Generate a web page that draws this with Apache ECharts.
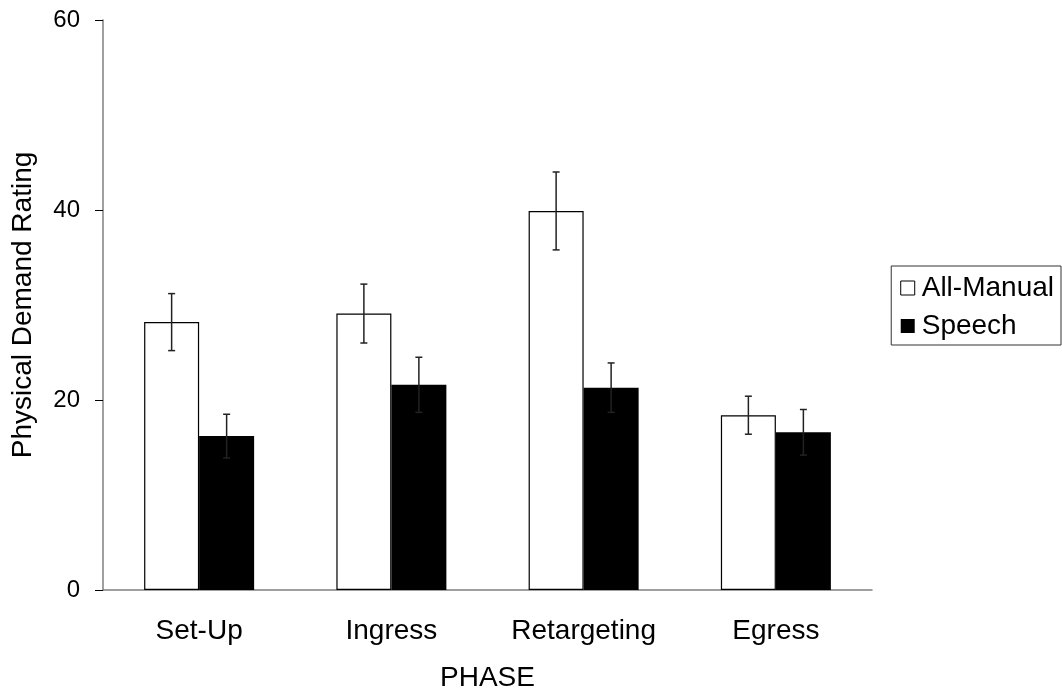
<!DOCTYPE html>
<html>
<head>
<meta charset="utf-8">
<script src="https://cdn.jsdelivr.net/npm/echarts@6/dist/echarts.min.js"></script>
<style>
  html, body { margin: 0; padding: 0; background: #fff; }
  #main { width: 1062px; height: 697px; }
</style>
</head>
<body>
<div id="main"></div>
<script>
const phases = ['Set-Up', 'Ingress', 'Retargeting', 'Egress']
const manual = [28.2, 29.1, 39.9, 18.4]
const manualErr = [3.0, 3.1, 4.1, 2.0]
const speech = [16.2, 21.6, 21.3, 16.6]
const speechErr = [2.3, 2.9, 2.6, 2.4]
const yTicks = [0, 20, 40, 60]

const font = 'Liberation Sans, Arial, sans-serif'
const barW = 55

const errData = (vals, errs) => vals.map((v, i) => [i, v - errs[i], v + errs[i]])

// error bars drawn as I-shapes over each bar
const errSeries = (name, vals, errs, shift) => ({
  name: name,
  type: 'custom',
  z: 10,
  legendHoverLink: false,
  renderItem: (params, api) => {
    const i = api.value(0)
    const lo = api.coord([i, api.value(1)])
    const hi = api.coord([i, api.value(2)])
    const x = lo[0] + shift
    const w = 3.5
    const style = { stroke: '#222', lineWidth: 1.5 }
    return {
      type: 'group',
      children: [
        { type: 'line', shape: { x1: x, y1: lo[1], x2: x, y2: hi[1] }, style },
        { type: 'line', shape: { x1: x - w, y1: lo[1], x2: x + w, y2: lo[1] }, style },
        { type: 'line', shape: { x1: x - w, y1: hi[1], x2: x + w, y2: hi[1] }, style }
      ]
    }
  },
  encode: { x: 0, y: [1, 2] },
  data: errData(vals, errs)
})

const chart = echarts.init(document.getElementById('main'))
chart.setOption({
  animation: false,
  textStyle: { fontFamily: font },
  grid: { left: 103, right: 190, top: 20, bottom: 105 },
  legend: {
    orient: 'vertical',
    right: 1,
    top: 266,
    data: [
      { name: 'All-Manual', itemStyle: { color: '#fff', borderColor: '#000', borderWidth: 1 } },
      { name: 'Speech', itemStyle: { color: '#000' } }
    ],
    icon: 'rect',
    itemWidth: 14,
    itemHeight: 14,
    itemGap: 10,
    padding: [8, 7, 5, 9],
    borderColor: '#333',
    borderWidth: 1,
    textStyle: { fontSize: 28, lineHeight: 28, color: '#000', fontFamily: font, padding: [0, 0, 0, 2] }
  },
  xAxis: {
    type: 'category',
    data: phases,
    name: 'PHASE',
    nameLocation: 'middle',
    nameGap: 74,
    nameTextStyle: { fontSize: 28, color: '#000' },
    axisLine: { lineStyle: { color: '#808080', width: 1.5 } },
    axisTick: { show: false },
    axisLabel: { fontSize: 28, color: '#000', margin: 27 }
  },
  yAxis: {
    type: 'value',
    min: 0,
    max: 60,
    interval: 20,
    name: 'Physical Demand Rating',
    nameLocation: 'middle',
    nameGap: 66,
    nameTextStyle: { fontSize: 28, color: '#000' },
    axisLine: { show: true, lineStyle: { color: '#808080', width: 1.5 } },
    axisTick: { show: true, length: 8, lineStyle: { color: '#000' } },
    axisLabel: { fontSize: 24, color: '#000', margin: 23, formatter: v => yTicks.includes(v) ? String(v) : '' },
    splitLine: { show: false }
  },
  series: [
    {
      name: 'All-Manual',
      type: 'bar',
      barWidth: barW,
      barGap: '0%',
      itemStyle: { color: '#fff', borderColor: '#000', borderWidth: 1.2 },
      data: manual
    },
    {
      name: 'Speech',
      type: 'bar',
      barWidth: barW,
      barGap: '0%',
      itemStyle: { color: '#000' },
      data: speech
    },
    errSeries('All-Manual', manual, manualErr, -barW / 2),
    errSeries('Speech', speech, speechErr, barW / 2)
  ]
})
</script>
</body>
</html>
